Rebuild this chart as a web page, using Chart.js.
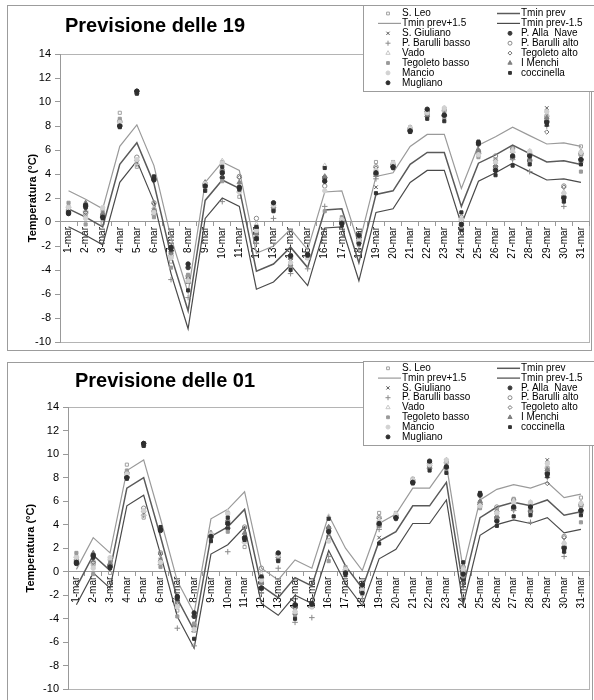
<!DOCTYPE html>
<html>
<head>
<meta charset="utf-8">
<script src="https://cdn.jsdelivr.net/npm/chart.js@4.4.1/dist/chart.umd.min.js"></script>
<style>
html, body { margin: 0; padding: 0; background: #fff; }
#wrap { position: relative; width: 594px; height: 700px; overflow: hidden; }
.panel { position: absolute; left: 0; width: 594px; }
</style>
</head>
<body>
<div id="wrap">
  <div class="panel" style="top:0;height:356px"><canvas id="c19"></canvas></div>
  <div class="panel" style="top:356px;height:344px"><canvas id="c01"></canvas></div>
</div>
<script>
// categories
const days = ['1-mar','2-mar','3-mar','4-mar','5-mar','6-mar','7-mar','8-mar','9-mar','10-mar',
  '11-mar','12-mar','13-mar','14-mar','15-mar','16-mar','17-mar','18-mar','19-mar','20-mar',
  '21-mar','22-mar','23-mar','24-mar','25-mar','26-mar','27-mar','28-mar','29-mar','30-mar','31-mar'];

// forecast lines, run of 19
const tmin19      = [1.1, 0.4, -0.4, 4.8, 6.6, 3.2, -2.8, -7.4, 1.8, 3.5, 2.8, -4.1, -3.5, -2.1, -3.8, 1.0, 1.1, -3.4, 2.3, 2.6, 4.8, 5.8, 5.8, 1.3, 4.9, 5.6, 6.4, 5.7, 5.0, 5.1, 4.8];
const tmin19Plus  = [2.6, 1.9, 1.1, 6.3, 8.1, 4.7, -1.3, -5.9, 3.3, 5.0, 4.3, -2.6, -2.0, -0.6, -2.3, 2.5, 2.6, -1.9, 3.8, 4.1, 6.3, 7.3, 7.3, 2.8, 6.4, 7.1, 7.9, 7.2, 6.5, 6.6, 6.3];
const tmin19Minus = [-0.4, -1.1, -1.9, 3.3, 5.1, 1.7, -4.3, -8.9, 0.3, 2.0, 1.3, -5.6, -5.0, -3.6, -5.3, -0.5, -0.4, -4.9, 0.8, 1.1, 3.3, 4.3, 4.3, -0.2, 3.4, 4.1, 4.9, 4.2, 3.5, 3.6, 3.3];

// forecast lines, run of 01
const tmin01      = [-1.3, 1.4, 0.1, 7.1, 8.0, 3.0, -2.3, -5.0, 3.0, 3.8, 5.3, -1.2, -2.2, -0.5, -1.2, 3.3, 0.5, -1.4, 2.6, 3.4, 5.6, 5.6, 7.6, -1.3, 4.6, 5.5, 5.9, 5.6, 6.1, 4.8, 5.1];
const tmin01Plus  = [0.2, 2.9, 1.6, 8.6, 9.5, 4.5, -0.8, -3.5, 4.5, 5.3, 6.8, 0.3, -0.7, 1.0, 0.3, 4.8, 2.0, 0.1, 4.1, 4.9, 7.1, 7.1, 9.1, 0.2, 6.1, 7.0, 7.4, 7.1, 7.6, 6.3, 6.6];
const tmin01Minus = [-2.8, -0.1, -1.4, 5.6, 6.5, 1.5, -3.8, -6.5, 1.5, 2.3, 3.8, -2.7, -3.7, -2.0, -2.7, 1.8, -1.0, -2.9, 1.1, 1.9, 4.1, 4.1, 6.1, -2.8, 3.1, 4.0, 4.4, 4.1, 4.6, 3.3, 3.6];

// observed minimum temperatures per station
const sLeo          = [1.1, 0.5, -0.1, 9.1, 4.6, 0.8, -3.3, -4.6, 3.1, 5.0, 2.1, -0.8, 1.2, -3.4, -2.9, 3.4, 0.1, -1.5, 5.0, 5.0, 7.9, 8.9, 9.2, 0.2, 5.8, 5.2, 6.2, 5.6, 9.2, 2.0, 6.3];
const sGiuliano     = [0.8, 1.0, 0.3, 8.2, 5.0, 1.0, -2.5, -4.8, 3.0, 4.2, 2.6, -1.2, 1.0, -3.2, -3.0, 3.6, -0.1, -1.7, 2.9, 4.7, 7.7, 9.0, 9.1, 0.0, 5.9, 4.8, 5.9, 5.4, 9.5, 1.8, 5.7];
const pAllaNave     = [0.7, 1.3, 0.5, 8.0, 10.9, 3.6, -2.2, -3.8, 3.1, 3.7, 2.8, -0.5, 1.5, -2.9, -2.8, 3.7, 0.0, -1.3, 4.0, 4.6, 7.6, 9.2, 8.9, -0.6, 6.5, 4.6, 5.4, 5.1, 8.4, 2.1, 5.2];
const pBarulliBasso = [1.0, 0.9, 0.4, 8.3, 4.8, 0.6, -4.8, -6.3, 2.9, 1.7, 2.5, -1.8, 0.3, -4.3, -3.9, 1.3, -0.2, -2.3, 3.6, 4.5, 7.7, 8.8, 8.8, -0.3, 5.7, 4.4, 5.2, 4.2, 8.0, 1.3, 5.0];
const pBarulliAlto  = [1.2, 0.7, 0.6, 8.4, 5.4, 1.6, -2.8, -4.5, 3.2, 4.3, 3.8, 0.3, 1.4, -3.0, -2.7, 3.0, 0.2, -1.2, 4.6, 4.8, 7.8, 9.0, 9.3, 0.4, 5.8, 5.5, 6.1, 5.7, 8.8, 3.0, 5.6];
const vado          = [1.4, 0.6, 1.1, 8.5, 4.9, 1.2, -2.9, -5.0, 3.3, 5.1, 3.0, -0.2, 1.3, -3.3, -2.9, 4.7, 0.3, -1.4, 4.3, 4.9, 7.9, 9.1, 9.3, 0.3, 5.6, 5.0, 6.0, 5.9, 9.0, 2.5, 5.9];
const tegoletoAlto  = [0.9, 0.8, 0.5, 8.4, 5.1, 1.5, -2.6, -4.7, 3.1, 4.0, 3.7, -0.6, 1.2, -3.1, -2.8, 3.5, 0.1, -1.6, 4.5, 4.8, 7.8, 9.0, 9.5, 0.1, 5.7, 5.1, 5.8, 5.6, 7.5, 2.9, 5.7];
const tegoletoBasso = [1.6, -0.2, 0.8, 8.6, 10.7, 0.4, -3.8, -4.4, 2.8, 3.4, 2.6, -1.0, 1.3, -3.7, -3.0, 0.9, 0.4, -1.9, 4.2, 4.6, 7.7, 8.8, 8.7, -0.4, 5.4, 4.5, 5.3, 5.0, 8.6, 1.9, 4.2];
const iMenchi       = [1.0, 1.6, 0.7, 8.2, 10.8, 1.0, -2.4, -5.0, 3.3, 4.3, 3.3, -0.9, 1.1, -3.5, -2.9, 3.8, 0.0, -1.5, 3.9, 4.7, 7.6, 8.9, 9.0, 0.0, 6.0, 4.7, 5.6, 5.3, 8.7, 2.2, 5.8];
const mancio        = [1.2, 0.3, 1.2, 8.3, 5.2, 0.8, -3.0, -4.9, 3.2, 4.9, 2.5, -0.7, 1.4, -3.4, -3.0, 2.6, 0.2, -1.6, 4.3, 4.9, 7.8, 9.1, 9.5, 0.2, 5.6, 5.0, 5.9, 5.9, 9.2, 2.4, 5.8];
const coccinella    = [0.7, 1.2, 0.3, 7.9, 10.7, 3.8, -2.3, -5.7, 2.6, 4.6, 2.7, -0.4, 0.9, -4.0, -2.8, 4.5, -0.3, -1.8, 2.4, 4.5, 7.5, 8.6, 8.4, 0.8, 6.7, 3.9, 4.7, 4.8, 8.1, 1.7, 4.8];
const mugliano      = [0.8, 1.4, 0.4, 8.0, 10.9, 3.5, -2.1, -3.5, 3.0, 4.1, 2.9, -1.4, 1.6, -2.8, -2.7, 3.4, -0.1, -1.1, 4.1, 4.6, 7.6, 9.4, 8.9, -0.2, 6.6, 4.3, 5.5, 5.5, 8.3, 2.0, 5.2];

const FONT = '"Liberation Sans", Arial, sans-serif';
Chart.defaults.font.family = FONT;
Chart.defaults.color = '#000';

function station(label, data, style, fill, stroke, r) {
  return { label, data, showLine: false, pointStyle: style, pointRadius: r || 2.2,
    pointBackgroundColor: fill, pointBorderColor: stroke, pointBorderWidth: 1, pointHoverRadius: 0 };
}
function fline(label, data, color, w) {
  return { label, data, borderColor: color, borderWidth: w, pointRadius: 0, tension: 0, fill: false };
}

// frame, plot border, title and the boxed two-column legend
const panelDecor = {
  id: 'panelDecor',
  beforeDraw(chart, args, o) {
    const ctx = chart.ctx;
    const a = chart.chartArea;
    ctx.save();
    ctx.lineWidth = 1;
    ctx.strokeStyle = '#9c9c9c';
    ctx.strokeRect(o.frame[0] + 0.5, o.frame[1] + 0.5, o.frame[2], o.frame[3]);
    ctx.strokeStyle = '#b4b4b4';
    ctx.strokeRect(Math.round(a.left) + 0.5, Math.round(a.top) + 0.5, Math.round(a.width), Math.round(a.height));
    ctx.fillStyle = '#000';
    ctx.font = 'bold 20px ' + FONT;
    ctx.fillText(o.title, o.titleX, o.titleY);
    ctx.restore();
  },
  afterDraw(chart, args, o) {
    const ctx = chart.ctx;
    const L = o.legend;
    ctx.save();
    ctx.fillStyle = '#fff';
    ctx.fillRect(L.x, L.y, L.w, L.h);
    ctx.strokeStyle = '#9c9c9c';
    ctx.lineWidth = 1;
    ctx.strokeRect(L.x + 0.5, L.y + 0.5, L.w, L.h);
    ctx.font = '10px ' + FONT;
    ctx.textBaseline = 'middle';
    chart.data.datasets.forEach((ds, i) => {
      const col = i % 2, row = Math.floor(i / 2);
      const y = L.rowY + row * L.rowStep;
      const tx = col ? 521 : 402;
      const mx = col ? 510 : 388;
      if (ds.showLine === false) {
        ctx.fillStyle = ds.pointBackgroundColor;
        ctx.strokeStyle = ds.pointBorderColor;
        ctx.lineWidth = 1;
        Chart.helpers.drawPoint(ctx, { pointStyle: ds.pointStyle, radius: ds.pointRadius * 0.9, borderWidth: 1, rotation: 0 }, mx, y);
      } else {
        ctx.strokeStyle = ds.borderColor;
        ctx.lineWidth = ds.borderWidth;
        ctx.beginPath();
        ctx.moveTo(tx - 24, y);
        ctx.lineTo(tx - 1, y);
        ctx.stroke();
      }
      ctx.fillStyle = '#000';
      ctx.fillText(ds.label, tx, y);
    });
    ctx.restore();
  }
};

function makeChart(id, mid, plus, minus, deco, pad, yWidth, titlePad) {
  const datasets = [
    station('S. Leo', sLeo, 'rect', 'rgba(255,255,255,0)', '#a0a0a0'),
    fline('Tmin prev', mid, '#5a5a5a', 1.5),
    fline('Tmin prev+1.5', plus, '#9a9a9a', 1.2),
    fline('Tmin prev-1.5', minus, '#4a4a4a', 1.2),
    station('S. Giuliano', sGiuliano, 'crossRot', '#555', '#555', 2.5),
    station('P. Alla  Nave', pAllaNave, 'circle', '#3a3a3a', '#3a3a3a'),
    station('P. Barulli basso', pBarulliBasso, 'cross', '#8a8a8a', '#8a8a8a', 2.8),
    station('P. Barulli alto', pBarulliAlto, 'circle', 'rgba(255,255,255,0)', '#8a8a8a'),
    station('Vado', vado, 'triangle', 'rgba(255,255,255,0)', '#c8c8c8', 2.7),
    station('Tegoleto alto', tegoletoAlto, 'rectRot', 'rgba(255,255,255,0)', '#707070'),
    station('Tegoleto basso', tegoletoBasso, 'rect', '#9a9a9a', '#9a9a9a'),
    station('I Menchi', iMenchi, 'triangle', '#808080', '#808080', 2.7),
    station('Mancio', mancio, 'circle', '#d2d2d2', '#d2d2d2'),
    station('coccinella', coccinella, 'rect', '#333', '#333'),
    station('Mugliano', mugliano, 'circle', '#2e2e2e', '#2e2e2e')
  ];
  // later series are painted on top, as in the original
  datasets.forEach((d, i) => { d.order = datasets.length - i; });

  return new Chart(document.getElementById(id), {
    type: 'line',
    data: { labels: days, datasets },
    plugins: [panelDecor],
    options: {
      responsive: true,
      maintainAspectRatio: false,
      animation: false,
      events: [],
      layout: { padding: pad },
      plugins: {
        legend: { display: false },
        tooltip: { enabled: false },
        panelDecor: deco
      },
      scales: {
        x: {
          type: 'category',
          position: { y: 0 },
          offset: true,
          grid: { offset: true, drawOnChartArea: false, drawTicks: true, tickLength: 4, color: '#999' },
          border: { display: true, color: '#999' },
          ticks: { minRotation: 90, maxRotation: 90, autoSkip: false, padding: 1, color: '#000', font: { size: 10 } }
        },
        y: {
          min: -10, max: 14,
          ticks: { stepSize: 2, padding: 4, color: '#000', font: { size: 11 } },
          grid: { drawOnChartArea: false, tickLength: 5, color: '#999' },
          border: { color: '#999' },
          title: { display: true, text: 'Temperatura (°C)', color: '#000',
            font: { size: 11, weight: 'bold' }, padding: { top: titlePad, bottom: 0 } },
          afterFit(s) { s.width = yWidth; }
        }
      }
    }
  });
}

makeChart('c19', tmin19, tmin19Plus, tmin19Minus, {
  title: 'Previsione delle 19', titleX: 65, titleY: 32,
  frame: [7, 5, 584, 345],
  legend: { x: 363, y: 5, w: 240, h: 86, rowY: 13.5, rowStep: 9.9 }
}, { left: 7, top: 54, right: 4, bottom: 14 }, 53, 19);

makeChart('c01', tmin01, tmin01Plus, tmin01Minus, {
  title: 'Previsione delle 01', titleX: 75, titleY: 31,
  frame: [7, 6, 585, 400],
  legend: { x: 363, y: 5, w: 240, h: 84, rowY: 12.3, rowStep: 9.8 }
}, { left: 7, top: 51, right: 1, bottom: 3 }, 61, 17);
</script>
</body>
</html>
